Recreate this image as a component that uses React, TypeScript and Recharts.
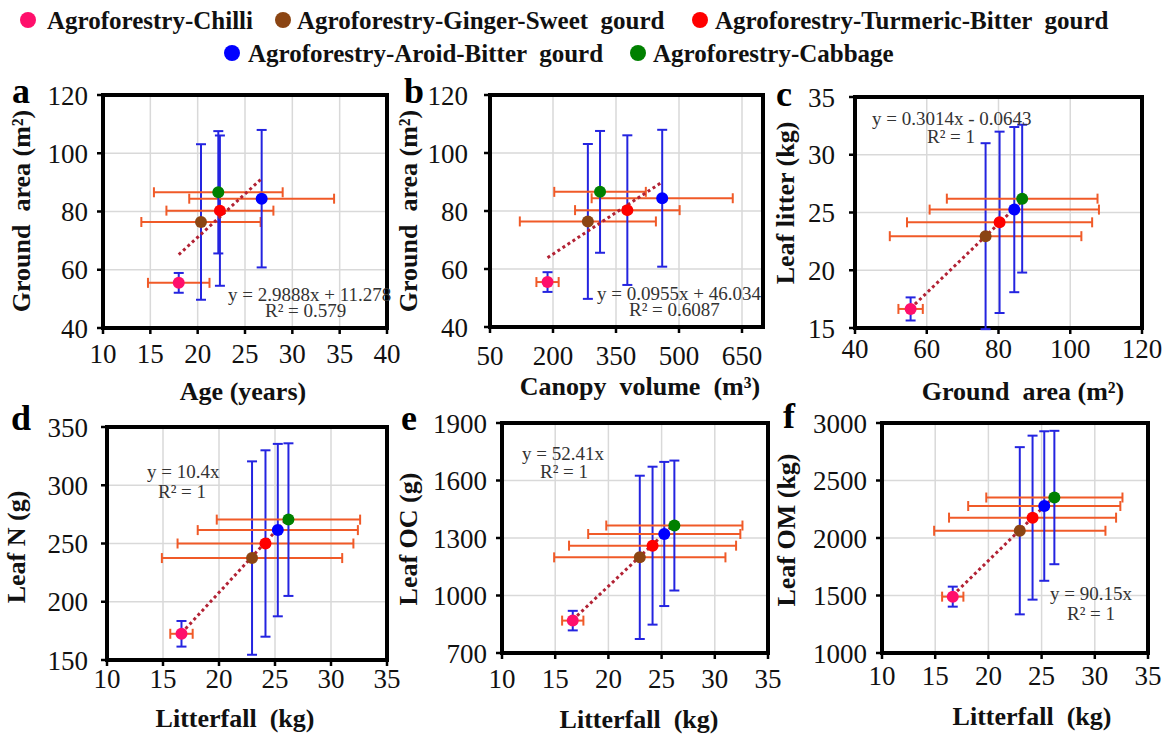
import { ScatterChart, Scatter, XAxis, YAxis, CartesianGrid, ErrorBar, ReferenceArea } from 'recharts';

// crops (legend order) and their marker colours
const crops = [
  'Agroforestry-Chilli',
  'Agroforestry-Ginger-Sweet  gourd',
  'Agroforestry-Turmeric-Bitter  gourd',
  'Agroforestry-Aroid-Bitter  gourd',
  'Agroforestry-Cabbage',
];
const cropColors = ['#FF0F6B', '#8B4513', '#FF0000', '#0000FF', '#008000'];

// means and standard deviations, same crop order
const age = [18.0, 20.35, 22.35, 26.76, 22.18];
const ageErr = [3.25, 6.3, 5.65, 7.65, 6.8];
const canopy = [187, 283, 377, 460, 312];
const canopyErr = [26.5, 162, 124.5, 168, 109];
const groundArea = [55.5, 76.4, 80.3, 84.4, 86.6];
const groundAreaErr = [3.4, 26.7, 25.8, 23.6, 21];
const litter = [16.65, 22.95, 24.15, 25.25, 26.2];
const litterErr = [1.0, 8.05, 7.85, 7.15, 6.4];
const leafN = [172.5, 237.5, 250, 261.5, 270.5];
const leafNErr = [11, 83, 80, 74, 65.5];
const leafOC = [869, 1199, 1260, 1321, 1365];
const leafOCErr = [51, 426, 412, 376, 339];
const leafOM = [1490, 2063, 2177, 2278, 2352];
const leafOMErr = [87, 727, 713, 650, 580];

// trend line end points
const trendA = [{ x: 18.0, y: 65.2 }, { x: 26.7, y: 91.1 }];
const trendB = [{ x: 187, y: 63.9 }, { x: 458, y: 89.8 }];
const trendC = [{ x: 55.5, y: 16.7 }, { x: 86.6, y: 26.0 }];
const trendD = [{ x: 16.65, y: 173 }, { x: 26.2, y: 272.5 }];
const trendE = [{ x: 16.65, y: 873 }, { x: 26.2, y: 1373 }];
const trendF = [{ x: 16.65, y: 1501 }, { x: 26.2, y: 2362 }];

// tick labels
const ageTicks = [10, 15, 20, 25, 30, 35, 40];
const groundTicks = [40, 60, 80, 100, 120];
const canopyTicks = [50, 200, 350, 500, 650];
const litterYTicks = [15, 20, 25, 30, 35];
const litterXTicks = [10, 15, 20, 25, 30, 35];
const nTicks = [150, 200, 250, 300, 350];
const ocTicks = [700, 1000, 1300, 1600, 1900];
const omTicks = [1000, 1500, 2000, 2500, 3000];

const FONT = "'Liberation Serif', 'Times New Roman', 'DejaVu Serif', serif";
const ERR_X = '#F05A28';
const ERR_Y = '#2424E0';
const TREND = '#B22234';
const AXW = 100;

const rows = (xs: number[], xe: number[], ys: number[], ye: number[]) =>
  crops.map((name, i) => ({ name, x: xs[i], ex: xe[i], y: ys[i], ey: ye[i] }));

const panels = [
  {
    id: 'a', left: 103, top: 95, w: 284, h: 233,
    xDomain: [10, 40], xTicks: ageTicks, yDomain: [40, 120], yTicks: groundTicks,
    data: rows(age, ageErr, groundArea, groundAreaErr), trend: trendA, xGap: 16, yGap: 15,
  },
  {
    id: 'b', left: 490, top: 95, w: 273, h: 232,
    xDomain: [50, 700], xTicks: canopyTicks, yDomain: [40, 120], yTicks: groundTicks,
    data: rows(canopy, canopyErr, groundArea, groundAreaErr), trend: trendB, xGap: 19, yGap: 22,
  },
  {
    id: 'c', left: 855, top: 97, w: 287, h: 231,
    xDomain: [40, 120], xTicks: groundTicks, yDomain: [15, 35], yTicks: litterYTicks,
    data: rows(groundArea, groundAreaErr, litter, litterErr), trend: trendC, xGap: 11, yGap: 20,
  },
  {
    id: 'd', left: 107, top: 427, w: 280, h: 233,
    xDomain: [10, 35], xTicks: litterXTicks, yDomain: [150, 350], yTicks: nTicks,
    data: rows(litter, litterErr, leafN, leafNErr), trend: trendD, xGap: 9, yGap: 19,
  },
  {
    id: 'e', left: 502, top: 423, w: 266, h: 230,
    xDomain: [10, 35], xTicks: litterXTicks, yDomain: [700, 1900], yTicks: ocTicks,
    data: rows(litter, litterErr, leafOC, leafOCErr), trend: trendE, xGap: 16, yGap: 15,
  },
  {
    id: 'f', left: 882, top: 423, w: 266, h: 230,
    xDomain: [10, 35], xTicks: litterXTicks, yDomain: [1000, 3000], yTicks: omTicks,
    data: rows(litter, litterErr, leafOM, leafOMErr), trend: trendF, xGap: 13, yGap: 15,
  },
];

// overlay text: panel letters, axis titles, equations
const letters = [
  { t: 'a', x: 12, y: 103 }, { t: 'b', x: 404, y: 103 }, { t: 'c', x: 776, y: 106 },
  { t: 'd', x: 11, y: 430 }, { t: 'e', x: 401, y: 430 }, { t: 'f', x: 783, y: 428 },
];
const xTitles = [
  { t: 'Age (years)', x: 243, y: 400 },
  { t: 'Canopy  volume  (m³)', x: 640, y: 395 },
  { t: 'Ground  area (m²)', x: 1023, y: 400 },
  { t: 'Litterfall  (kg)', x: 235, y: 727 },
  { t: 'Litterfall  (kg)', x: 639, y: 728 },
  { t: 'Litterfall  (kg)', x: 1032, y: 725 },
];
const yTitles = [
  { t: 'Ground  area (m²)', x: 30, y: 211 },
  { t: 'Ground  area (m²)', x: 417, y: 211 },
  { t: 'Leaf litter (kg)', x: 794, y: 203 },
  { t: 'Leaf N (g)', x: 25, y: 547 },
  { t: 'Leaf OC (g)', x: 417, y: 539 },
  { t: 'Leaf OM (kg)', x: 795, y: 530 },
];
const equations = [
  { l1: 'y = 2.9888x + 11.278', x1: 228, y1: 301, l2: 'R² = 0.579', x2: 265, y2: 317 },
  { l1: 'y = 0.0955x + 46.034', x1: 597, y1: 300, l2: 'R² = 0.6087', x2: 629, y2: 316 },
  { l1: 'y = 0.3014x - 0.0643', x1: 872, y1: 125, l2: 'R² = 1', x2: 927, y2: 143 },
  { l1: 'y = 10.4x', x1: 147, y1: 478, l2: 'R² = 1', x2: 158, y2: 498 },
  { l1: 'y = 52.41x', x1: 522, y1: 460, l2: 'R² = 1', x2: 540, y2: 478 },
  { l1: 'y = 90.15x', x1: 1050, y1: 600, l2: 'R² = 1', x2: 1067, y2: 620 },
];
const legendPos = [
  { cx: 28, cy: 20, tx: 47, ty: 29 },
  { cx: 283, cy: 20, tx: 297, ty: 29 },
  { cx: 700, cy: 20, tx: 715, ty: 29 },
  { cx: 232, cy: 53, tx: 248, ty: 62 },
  { cx: 638, cy: 53, tx: 653, ty: 62 },
];

const dotShape = (color: string) => (props: any) => (
  <circle cx={props.cx} cy={props.cy} r={6} fill={color} />
);

const tickStyle = { fontSize: 27, fill: '#111', fontFamily: FONT };

function Panel({ p }: { p: (typeof panels)[number] }) {
  const W = AXW + p.w + 30;
  const H = 20 + p.h + 50;
  return (
    <div style={{ position: 'absolute', left: p.left - AXW, top: p.top - 20 }}>
      <ScatterChart width={W} height={H} margin={{ top: 20, right: 30, left: 0, bottom: 0 }} style={{ fontFamily: FONT }}>
        <CartesianGrid stroke="#d9d9d9" strokeWidth={1.5} />
        <XAxis
          type="number"
          dataKey="x"
          domain={p.xDomain}
          ticks={p.xTicks}
          allowDataOverflow
          interval={0}
          height={50}
          axisLine={false}
          tickLine={{ stroke: '#000', strokeWidth: 2.5 }}
          tickSize={6}
          tickMargin={p.xGap - 6}
          tick={tickStyle}
        />
        <YAxis
          type="number"
          dataKey="y"
          domain={p.yDomain}
          ticks={p.yTicks}
          allowDataOverflow
          interval={0}
          width={AXW}
          axisLine={false}
          tickLine={{ stroke: '#000', strokeWidth: 2.5 }}
          tickSize={6}
          tickMargin={p.yGap - 6}
          tick={tickStyle}
        />
        <Scatter
          data={p.trend}
          line={{ stroke: TREND, strokeWidth: 3, strokeDasharray: '3 3' }}
          shape={() => <g />}
          isAnimationActive={false}
        />
        {p.data.map((r, i) => (
          <Scatter key={r.name} name={r.name} data={[r]} shape={dotShape(cropColors[i])} isAnimationActive={false}>
            <ErrorBar dataKey="ex" direction="x" width={5} stroke={ERR_X} strokeWidth={2} isAnimationActive={false} />
            <ErrorBar dataKey="ey" direction="y" width={5} stroke={ERR_Y} strokeWidth={2} isAnimationActive={false} />
          </Scatter>
        ))}
        <ReferenceArea
          x1={p.xDomain[0]}
          x2={p.xDomain[1]}
          y1={p.yDomain[0]}
          y2={p.yDomain[1]}
          fill="none"
          stroke="#000"
          strokeWidth={4}
          ifOverflow="visible"
        />
      </ScatterChart>
    </div>
  );
}

export default function App() {
  return (
    <div
      style={{
        position: 'absolute',
        left: 0,
        top: 0,
        width: 1166,
        height: 735,
        background: '#fff',
        fontFamily: FONT,
        overflow: 'hidden',
      }}
    >
      {panels.map((p) => (
        <Panel key={p.id} p={p} />
      ))}
      <svg
        width={1166}
        height={735}
        fontFamily={FONT}
        style={{ position: 'absolute', left: 0, top: 0, pointerEvents: 'none' }}
      >
        {crops.map((name, i) => (
          <g key={name}>
            <circle cx={legendPos[i].cx} cy={legendPos[i].cy} r={8} fill={cropColors[i]} />
            <text x={legendPos[i].tx} y={legendPos[i].ty} fontFamily={FONT} fontSize={25} fontWeight="bold" fill="#111" style={{ whiteSpace: 'pre' }}>
              {name}
            </text>
          </g>
        ))}
        {letters.map((l) => (
          <text key={l.t} x={l.x} y={l.y} fontFamily={FONT} fontSize={36} fontWeight="bold" fill="#000">
            {l.t}
          </text>
        ))}
        {xTitles.map((t, i) => (
          <text key={i} x={t.x} y={t.y} fontFamily={FONT} fontSize={26} fontWeight="bold" fill="#111" textAnchor="middle" style={{ whiteSpace: 'pre' }}>
            {t.t}
          </text>
        ))}
        {yTitles.map((t, i) => (
          <text
            key={i}
            x={t.x}
            y={t.y}
            fontFamily={FONT}
            fontSize={26}
            fontWeight="bold"
            fill="#111"
            textAnchor="middle"
            transform={`rotate(-90 ${t.x} ${t.y})`}
            style={{ whiteSpace: 'pre' }}
          >
            {t.t}
          </text>
        ))}
        {equations.map((e, i) => (
          <g key={i} fontSize={19} fill="#333" fontFamily={FONT}>
            <text x={e.x1} y={e.y1}>{e.l1}</text>
            <text x={e.x2} y={e.y2}>{e.l2}</text>
          </g>
        ))}
      </svg>
    </div>
  );
}
